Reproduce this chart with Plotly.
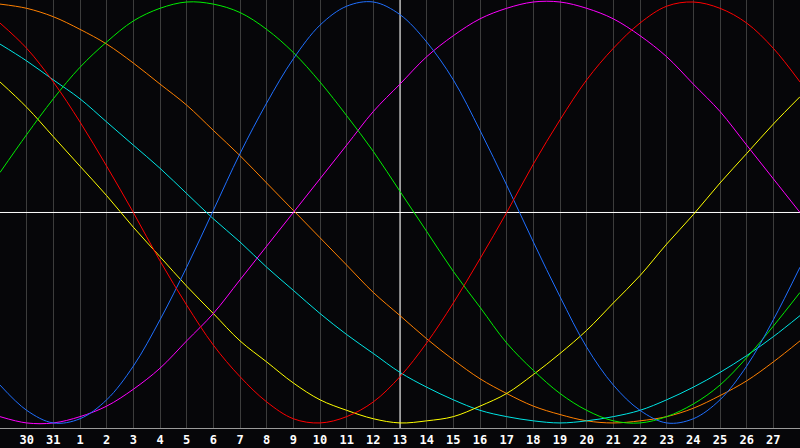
import plotly.graph_objects as go

# day index 0..30 across the chart (today = index 15, labelled 13)
days = list(range(31))
tick_positions = list(range(1, 30))
tick_labels = ['30', '31'] + [str(i) for i in range(1, 28)]
today_index = 15

# cycle values in percent, one per day
red = [90, 78, 62, 43, 22, 0, -23, -44, -63, -78, -90, -98, -100, -97, -90, -78, -62, -43, -22, 0, 23, 44, 63, 78, 90, 98, 100, 97, 90, 78, 62]
blue = [-82, -94, -100, -98, -89, -73, -51, -26, 1, 28, 52, 73, 89, 98, 100, 94, 81, 63, 39, 13, -14, -40, -64, -82, -94, -100, -98, -89, -73, -51, -26]
green = [19, 37, 54, 69, 81, 91, 97, 100, 99, 95, 87, 76, 62, 46, 29, 10, -9, -28, -45, -62, -75, -86, -94, -99, -100, -97, -91, -82, -69, -54, -38]
magenta = [-97, -100, -100, -97, -92, -84, -74, -61, -48, -32, -16, 0, 16, 32, 48, 61, 74, 84, 92, 97, 100, 100, 97, 92, 84, 74, 61, 48, 32, 16, 0]
yellow = [62, 50, 36, 22, 8, -7, -21, -35, -48, -61, -71, -81, -89, -94, -98, -100, -99, -97, -92, -86, -77, -67, -56, -43, -30, -15, -1, 14, 28, 42, 55]
cyan = [80, 72, 63, 54, 43, 32, 21, 9, -3, -14, -26, -37, -48, -58, -67, -76, -83, -89, -94, -97, -99, -100, -99, -97, -94, -89, -83, -76, -68, -59, -49]
orange = [99, 97, 93, 87, 80, 71, 61, 51, 39, 27, 14, 1, -12, -25, -38, -49, -60, -70, -79, -86, -92, -96, -99, -100, -99, -97, -93, -87, -80, -71, -61]

series = [
    (orange, '#ff8000'),
    (cyan, '#00e5e5'),
    (yellow, '#ffff00'),
    (magenta, '#ff00ff'),
    (green, '#00ee00'),
    (blue, '#1f6fff'),
    (red, '#ff0000'),
]

Y0, Y1 = -102.4, 100.95

fig = go.Figure()
for vals, col in series:
    fig.add_trace(go.Scatter(x=days, y=vals, mode='lines',
                             line=dict(color=col, width=1, shape='spline'),
                             showlegend=False, hoverinfo='skip'))

fig.update_layout(width=800, height=448, margin=dict(l=0, r=0, t=0, b=20, pad=0),
                  paper_bgcolor='#060609', plot_bgcolor='#060609')
fig.update_xaxes(range=[0, 30], tickvals=tick_positions, ticktext=tick_labels,
                 showgrid=True, gridcolor='#3c3c3c', gridwidth=1,
                 showline=True, linecolor='#9a9a9a', linewidth=1, mirror=True,
                 ticks='', zeroline=False, ticklabelstandoff=1,
                 tickfont=dict(color='white', size=12, family='DejaVu Sans Mono', weight='bold'))
fig.update_yaxes(range=[Y0, Y1], showticklabels=False, showgrid=False, zeroline=False,
                 showline=True, linecolor='#9a9a9a', linewidth=1, mirror=True)
fig.add_shape(type='line', x0=today_index, x1=today_index, y0=Y0, y1=Y1,
              line=dict(color='white', width=1), layer='between')
fig.add_shape(type='line', x0=0, x1=30, y0=0, y1=0,
              line=dict(color='white', width=1), layer='between')
fig.write_html('out.html', config={'displayModeBar': False},
               post_script="document.body.style.margin='0';document.body.style.background='#060609';")
